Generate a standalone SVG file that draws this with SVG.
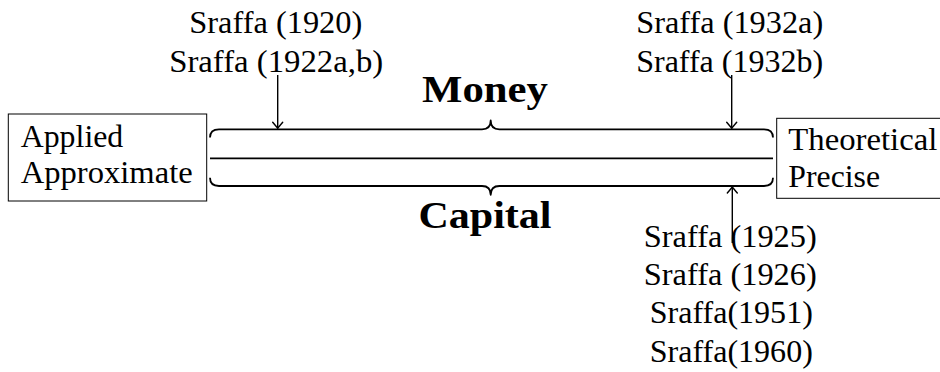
<svg xmlns="http://www.w3.org/2000/svg" width="940" height="372" viewBox="0 0 940 372" font-family="Liberation Serif" font-size="32">
<style>
.c { text-anchor: middle; }
.box { fill: #fff; stroke: #000; stroke-width: 1; }
.brace { fill: none; stroke: #000; stroke-width: 1.8; stroke-linejoin: round; }
.arrow { fill: none; stroke: #000; stroke-width: 1.4; marker-end: url(#to); }
</style>
<defs>
<marker id="to" markerUnits="userSpaceOnUse" markerWidth="14" markerHeight="14" refX="0" refY="0" viewBox="-8 -7 10 14" orient="auto" overflow="visible">
<path d="M-6,-5 Q-1.5,-1.2 0,0 Q-1.5,1.2 -6,5" fill="none" stroke="#000" stroke-width="1.4" stroke-linecap="round"/>
</marker>
</defs>
<g id="applied">
<rect class="box" x="8.3" y="114" width="198.4" height="87"/>
<text font-family="Liberation Serif" x="20.7" y="146.7" textLength="102.6" lengthAdjust="spacingAndGlyphs">Applied</text>
<text font-family="Liberation Serif" x="20.7" y="183.3" textLength="172" lengthAdjust="spacingAndGlyphs">Approximate</text>
</g>
<g id="theoretical">
<rect class="box" x="776.7" y="118.3" width="170" height="80"/>
<text font-family="Liberation Serif" x="788.3" y="150" textLength="149" lengthAdjust="spacingAndGlyphs">Theoretical</text>
<text font-family="Liberation Serif" x="788.3" y="187.3" textLength="91.7" lengthAdjust="spacingAndGlyphs">Precise</text>
</g>
<g id="money">
<text font-family="Liberation Serif" font-weight="bold" font-size="38" class="c" x="485" y="101.7" textLength="126" lengthAdjust="spacingAndGlyphs">Money</text>
</g>
<g id="capital">
<text font-family="Liberation Serif" font-weight="bold" font-size="38" class="c" x="485" y="228.3" textLength="133" lengthAdjust="spacingAndGlyphs">Capital</text>
</g>
<g id="sraffa-early">
<text font-family="Liberation Serif" class="c" x="275.8" y="33.3" textLength="173" lengthAdjust="spacingAndGlyphs">Sraffa (1920)</text>
<text font-family="Liberation Serif" class="c" x="276.2" y="71.7" textLength="214" lengthAdjust="spacingAndGlyphs">Sraffa (1922a,b)</text>
</g>
<g id="sraffa-1932">
<text font-family="Liberation Serif" class="c" x="729.7" y="33.3" textLength="187" lengthAdjust="spacingAndGlyphs">Sraffa (1932a)</text>
<text font-family="Liberation Serif" class="c" x="729.7" y="71.7" textLength="187" lengthAdjust="spacingAndGlyphs">Sraffa (1932b)</text>
</g>
<g id="sraffa-capital">
<text font-family="Liberation Serif" class="c" x="730.3" y="246.7" textLength="173" lengthAdjust="spacingAndGlyphs">Sraffa (1925)</text>
<text font-family="Liberation Serif" class="c" x="730.3" y="285" textLength="173" lengthAdjust="spacingAndGlyphs">Sraffa (1926)</text>
<text font-family="Liberation Serif" class="c" x="731.3" y="323.3" textLength="163" lengthAdjust="spacingAndGlyphs">Sraffa(1951)</text>
<text font-family="Liberation Serif" class="c" x="731.3" y="361.7" textLength="163" lengthAdjust="spacingAndGlyphs">Sraffa(1960)</text>
</g>
<g id="connectors">
<path class="brace" d="M210,137.5 Q210,129.3 219,129.3 L482,129.3 Q490.7,129.3 490.7,120.5 Q490.7,129.3 499.4,129.3 L764,129.3 Q773,129.3 773,137.5"/>
<line class="brace" x1="210" y1="158.3" x2="773" y2="158.3"/>
<path class="brace" d="M210,177.8 Q210,186 219,186 L482,186 Q490.7,186 490.7,194.8 Q490.7,186 499.4,186 L764,186 Q773,186 773,177.8"/>
<line class="arrow" x1="277.7" y1="75" x2="277.7" y2="128.3"/>
<line class="arrow" x1="731.7" y1="75" x2="731.7" y2="128.3"/>
<line class="arrow" x1="732.3" y1="243" x2="732.3" y2="187"/>
</g>
</svg>
